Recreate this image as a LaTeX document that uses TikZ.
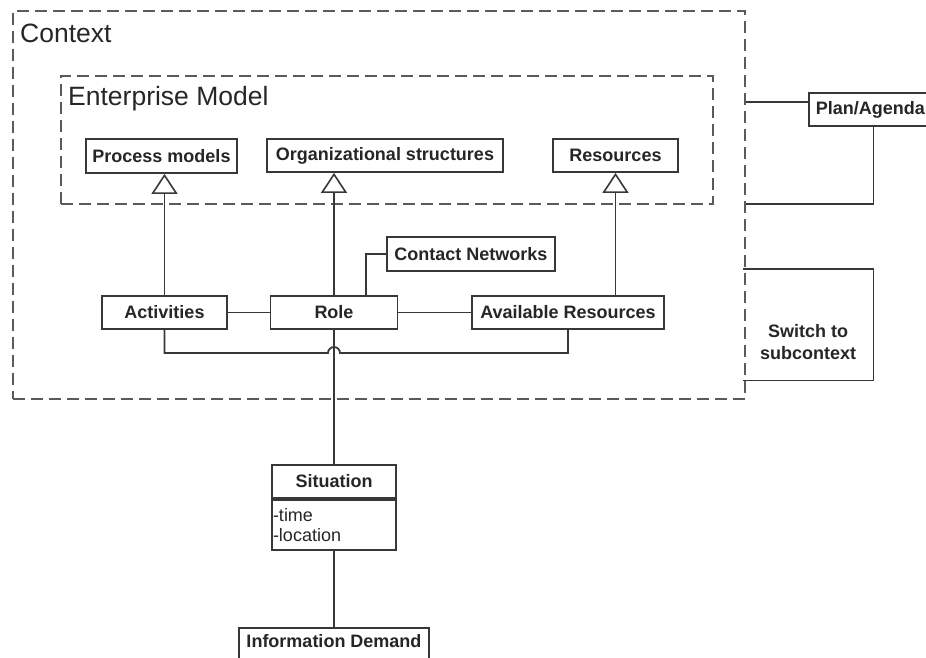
\documentclass[tikz,border=0pt]{standalone}
\usepackage{fontspec}
\setmainfont{Liberation Sans}
\usetikzlibrary{arrows.meta}
\definecolor{dashgray}{HTML}{5A5A5A}
\definecolor{linegray}{HTML}{383838}
\begin{document}
\begin{tikzpicture}[x=1pt,y=-1pt,
  box/.style={draw=linegray, line width=1.8pt, fill=white, inner sep=0pt, font=\bfseries\fontsize{18}{22}\selectfont, text=black!85},
  conn/.style={draw=linegray, line width=1.8pt},
  gen/.style={conn, -{Triangle[open, length=20pt, width=26pt, line width=1.6pt]}},
  frame/.style={draw=dashgray, line width=1.8pt, dash pattern=on 12pt off 6pt, inner sep=0pt},
  title/.style={font=\fontsize{26.5}{30}\selectfont, text=black!85, anchor=base west, inner sep=0pt},
  swtext/.style={font=\bfseries\fontsize{18}{22}\selectfont, text=black!85, align=center}]
\useasboundingbox (0,0) rectangle (926,658);
% frames
\node (ctx) [frame, minimum width=732, minimum height=388, anchor=north west] at (12,10) {};
\node (ctxl) [title] at (20,43) {Context};
\node (em) [frame, minimum width=652, minimum height=128, anchor=north west] at (60,75) {};
\node (eml) [title] at (68,106) {Enterprise Model};
% boxes
\node (pm) [box, minimum width=151, minimum height=34] at (161.5,156) {Process models};
\node (os) [box, minimum width=236, minimum height=33] at (385,155.5) {Organizational structures};
\node (rs) [box, minimum width=125, minimum height=33] at (615.5,155.5) {Resources};
\node (cn) [box, minimum width=168, minimum height=34] at (471,254) {Contact Networks};
\node (act) [box, minimum width=125, minimum height=33] at (164.5,312.5) {Activities};
\node (role) [box, minimum width=127, minimum height=33] at (334,312.5) {Role};
\node (avr) [box, minimum width=192, minimum height=33] at (568,312.5) {Available Resources};
\node (sit) [box, minimum width=124, minimum height=33, anchor=north] at (334,464) {Situation};
\node (sita) [box, font=\fontsize{18}{20}\selectfont, minimum width=124, minimum height=50, anchor=north, text width=122, align=left, inner xsep=1pt] at (sit.south) {-time\\-location};
\node (info) [box, anchor=north, minimum width=190, text height=17pt, text depth=25pt, inner ysep=3pt] at (334,627) {Information Demand};
\node (plan) [box, anchor=north west, text width=115, align=left, inner xsep=7pt, minimum height=33] at (808,92) {Plan/Agenda};
\node (sw) [minimum width=130, minimum height=111, anchor=north west, inner sep=0pt,
  label={[swtext, yshift=-17pt]center:Switch to\\subcontext}] at (743,269) {};
% connectors
\draw[gen] (act.north) -- (act.north |- pm.south);
\draw[gen] (role.north) -- (role.north |- os.south);
\draw[gen] (avr.north -| rs.south) -- (rs.south);
\draw[conn] (act.east) -- (role.west);
\draw[conn] (role.east) -- (avr.west);
\draw[conn] ([xshift=32pt]role.north) |- (cn.west);
\draw[conn] (act.south) -- (act.south |- 0,353) -- ([xshift=-6pt]role.south |- 0,353)
  arc[start angle=180, end angle=360, radius=6] -- (avr.south |- 0,353) -- (avr.south);
\draw[conn] (role.south) -- (sit.north);
\draw[conn] (sita.south) -- (info.north);
\draw[conn] ([yshift=7.5pt]plan.west) -- ([yshift=7.5pt]plan.west -| ctx.east);
\draw[conn] (plan.south) |- (ctx.east |- 0,204);
\draw[conn] (sw.north west) -- (sw.north east) -- (sw.south east) -- (sw.south west);
\end{tikzpicture}
\end{document}
